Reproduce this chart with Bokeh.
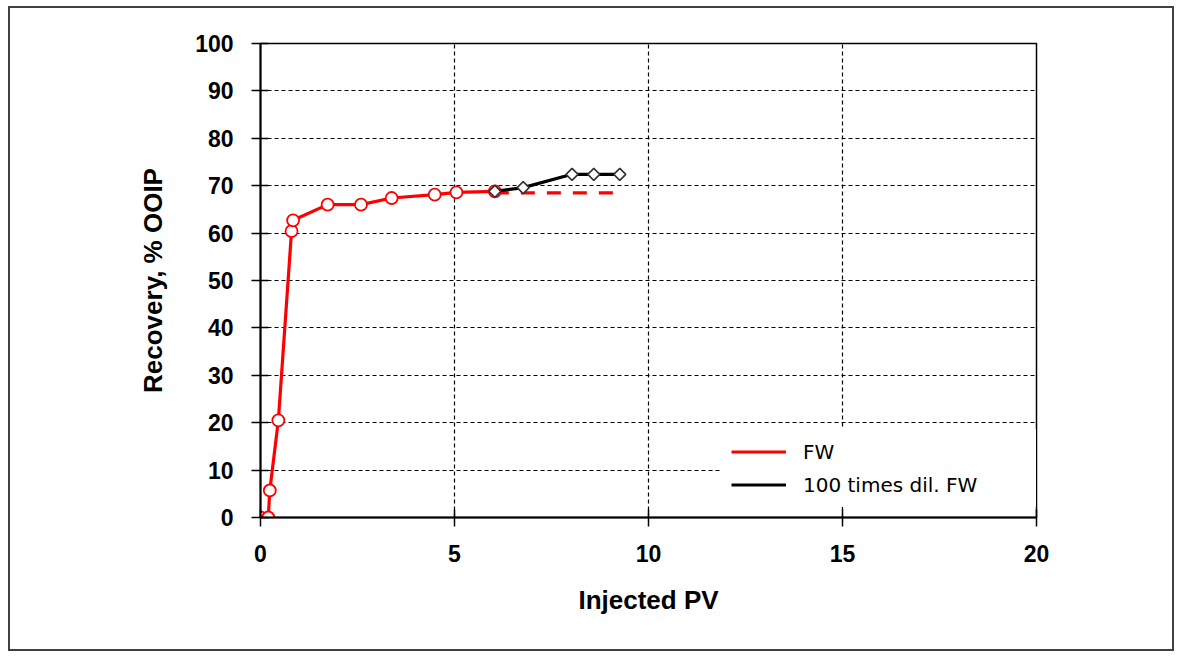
import math
from bokeh.plotting import figure
from bokeh.models import Range1d, Legend, LegendItem, FixedTicker
from bokeh.embed import file_html
from bokeh.resources import INLINE

# ---- data ----
fw_pv = [0.0, 0.2, 0.24, 0.46, 0.8, 0.84, 1.73, 2.59, 3.38, 4.49, 5.05, 6.04]
fw_rec = [0.0, 0.0, 5.7, 20.5, 60.4, 62.7, 66.0, 66.0, 67.4, 68.1, 68.6, 68.8]
fw_ext_pv = [6.04, 9.3]
fw_ext_rec = [68.5, 68.5]
dil_pv = [6.04, 6.77, 8.03, 8.59, 9.26]
dil_rec = [68.8, 69.6, 72.4, 72.4, 72.4]
x_ticks = [0, 5, 10, 15, 20]
y_ticks = [0, 10, 20, 30, 40, 50, 60, 70, 80, 90, 100]
series_labels = ["FW", "100 times dil. FW"]

p = figure(width=1166, height=645,
           x_range=Range1d(0, 20), y_range=Range1d(0, 100),
           output_backend="svg", toolbar_location=None,
           min_border_left=250, min_border_right=140,
           min_border_top=35, min_border_bottom=136,
           background_fill_color="white", border_fill_color="white")

p.styles = {"border": "2px solid #404040", "margin-left": "8px", "margin-top": "6px"}

# frame / grid
p.outline_line_color = "black"
p.outline_line_width = 1.5
p.outline_line_alpha = 1.0
for g in (p.xgrid, p.ygrid):
    g.grid_line_color = "black"
    g.grid_line_dash = "4 3"
    g.grid_line_width = 1.2

p.xaxis.ticker = FixedTicker(ticks=x_ticks)
p.yaxis.ticker = FixedTicker(ticks=y_ticks)

for ax in (p.xaxis, p.yaxis):
    ax.axis_line_color = "black"
    ax.axis_line_width = 2
    ax.major_tick_line_color = "black"
    ax.major_tick_line_width = 1.5
    ax.major_tick_in = 8
    ax.major_tick_out = 9
    ax.minor_tick_line_color = None
    ax.major_label_text_font = "Liberation Sans"
    ax.major_label_text_font_style = "bold"
    ax.major_label_text_font_size = "23px"
    ax.major_label_text_color = "black"
    ax.major_label_standoff = 18
    ax.axis_label_text_font = "Liberation Sans"
    ax.axis_label_text_font_style = "bold"
    ax.axis_label_text_font_size = "26px"
    ax.axis_label_text_color = "black"

p.xaxis.axis_label = "Injected PV"
p.yaxis.axis_label = "Recovery, % OOIP"
p.xaxis.axis_label_standoff = 20
p.yaxis.axis_label_standoff = 24

# series
red_line = p.line(fw_pv, fw_rec, line_color="#ff0000", line_width=3.2)
p.line(fw_ext_pv, fw_ext_rec, line_color="#ff0000", line_width=3.2, line_dash="14 12")
p.scatter(fw_pv, fw_rec, marker="circle", size=12, fill_color="white",
          line_color="#ff0000", line_width=1.8)
black_line = p.line(dil_pv, dil_rec, line_color="black", line_width=3.2)
p.scatter(dil_pv, dil_rec, marker="square", angle=math.pi / 4, size=8.5,
          fill_color="white", line_color="#333333", line_width=1.6)

legend = Legend(items=[LegendItem(label=series_labels[0], renderers=[red_line]),
                       LegendItem(label=series_labels[1], renderers=[black_line])],
                location=(461, 10))
legend.glyph_width = 55
legend.glyph_height = 25
legend.label_height = 25
legend.label_width = 225
legend.label_standoff = 17
legend.spacing = 8
legend.padding = 10
legend.margin = 0
legend.label_text_font = "DejaVu Sans"
legend.label_text_font_size = "20px"
legend.label_text_color = "black"
legend.border_line_alpha = 0
legend.background_fill_color = "white"
legend.background_fill_alpha = 1.0
p.add_layout(legend)

open("out.html", "w").write(file_html(p, INLINE))
